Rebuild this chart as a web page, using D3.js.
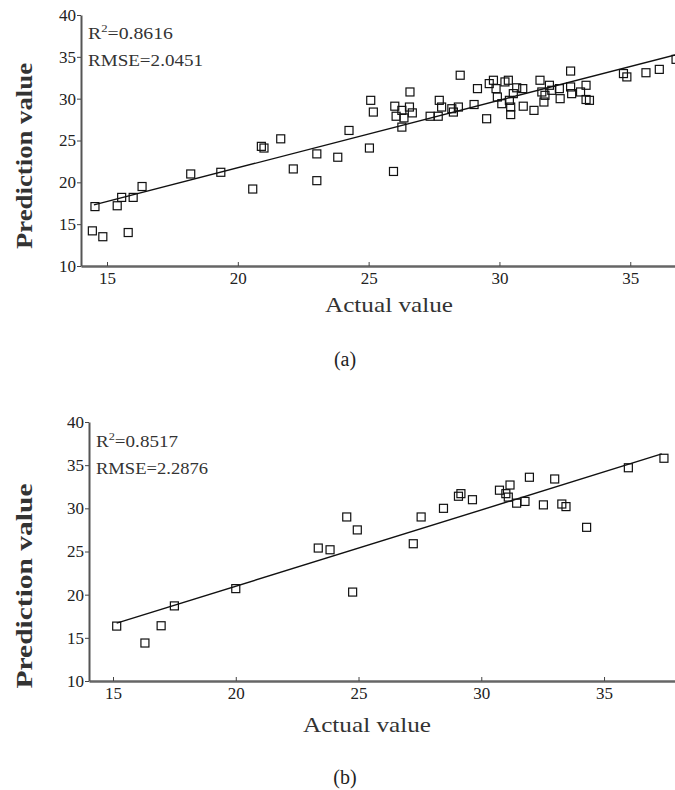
<!DOCTYPE html>
<html>
<head>
<meta charset="utf-8">
<script src="https://cdn.jsdelivr.net/npm/d3@7"></script>
<style>
  html, body { margin: 0; padding: 0; background: #fff; }
  svg { display: block; }
</style>
</head>
<body>
<svg id="chart" width="675" height="790"></svg>
<script>
// ---------- DATA ----------
// Panel (a): actual vs predicted
const actualA = [14.54, 14.44, 14.84, 15.39, 15.56, 16.0, 15.81, 16.34, 18.2, 19.35, 20.57, 20.9, 21.0,
  21.64, 22.12, 23.02, 23.02, 23.82, 24.25, 25.03, 25.08, 25.18, 25.95, 26.0, 26.05, 26.27, 26.27, 26.35,
  26.56, 26.58, 26.67, 27.35, 27.66, 27.7, 27.79, 28.18, 28.24, 28.43, 28.5, 29.03, 29.16, 29.51, 29.61,
  29.77, 29.87, 29.92, 30.09, 30.21, 30.34, 30.38, 30.43, 30.43, 30.53, 30.66, 30.89, 30.91, 31.32, 31.55,
  31.62, 31.74, 31.7, 31.91, 32.0, 32.32, 32.29, 32.72, 32.72, 32.76, 33.1, 33.31, 33.31, 33.44, 34.74,
  34.87, 35.6, 36.11, 36.75];
const predictedA = [17.1, 14.2, 13.5, 17.2, 18.2, 18.2, 14.0, 19.5, 21.0, 21.2, 19.2, 24.3, 24.1,
  25.2, 21.6, 23.4, 20.2, 23.0, 26.2, 24.1, 29.8, 28.4, 21.3, 29.1, 27.9, 28.6, 26.6, 27.7,
  29.0, 30.8, 28.3, 27.9, 27.9, 29.8, 29.0, 28.8, 28.4, 29.0, 32.8, 29.3, 31.2, 27.6, 31.8,
  32.2, 31.2, 30.2, 29.4, 32.0, 32.2, 29.8, 29.0, 28.1, 30.6, 31.3, 31.2, 29.1, 28.6, 32.2,
  30.8, 30.4, 29.6, 31.6, 31.0, 30.0, 31.2, 33.3, 31.4, 30.6, 30.8, 31.6, 29.9, 29.8, 33.0,
  32.6, 33.1, 33.5, 34.7];
const fitXA = [14.5, 36.8];
const fitYA = [17.3, 35.3];
const statsA = ["0.8616", "2.0451"];

// Panel (b)
const actualB = [15.15, 16.3, 16.96, 17.5, 20.0, 23.36, 23.84, 24.52, 24.95, 24.76, 27.23, 27.55, 28.46,
  29.07, 29.17, 29.64, 30.74, 31.0, 31.17, 31.1, 31.44, 31.78, 31.96, 32.53, 32.99, 33.28, 33.45, 34.29,
  35.99, 37.44];
const predictedB = [16.36, 14.4, 16.4, 18.7, 20.7, 25.4, 25.2, 29.0, 27.5, 20.3, 25.9, 29.0, 30.0,
  31.4, 31.7, 31.0, 32.1, 31.7, 32.7, 31.3, 30.6, 30.8, 33.6, 30.4, 33.4, 30.5, 30.2, 27.8,
  34.7, 35.8];
const fitXB = [15.15, 37.35];
const fitYB = [16.7, 36.3];
const statsB = ["0.8517", "2.2876"];

const xTicks = [15, 20, 25, 30, 35];
const yTicks = [10, 15, 20, 25, 30, 35, 40];
const xTitle = "Actual value";
const yTitle = "Prediction value";

// ---------- DRAW ----------
const svg = d3.select("#chart");
const FONT = "'Liberation Serif', 'Times New Roman', serif";

function panel(cfg) {
  const x = d3.scaleLinear().domain(cfg.xDomain).range([cfg.left, cfg.right]);
  const y = d3.scaleLinear().domain([10, 40]).range([cfg.bottom, cfg.top]);
  const g = svg.append("g");

  // x axis (ticks point inward)
  const xa = g.append("g")
    .attr("transform", `translate(0,${cfg.bottom})`)
    .call(d3.axisBottom(x).tickValues(xTicks).tickFormat(d3.format("d"))
      .tickSizeInner(-4).tickSizeOuter(0).tickPadding(6));
  xa.select(".domain").attr("stroke", "#666").attr("stroke-width", 2.5);
  xa.selectAll(".tick line").attr("stroke", "#444").attr("stroke-width", 1);
  xa.selectAll(".tick text").attr("font-family", FONT).attr("font-size", cfg.tickFont)
    .attr("fill", "#222");

  // y axis (ticks outward)
  const ya = g.append("g")
    .attr("transform", `translate(${cfg.left},0)`)
    .call(d3.axisLeft(y).tickValues(yTicks).tickFormat(d3.format("d"))
      .tickSizeInner(4).tickSizeOuter(0).tickPadding(1));
  ya.select(".domain").attr("stroke", "#555").attr("stroke-width", 2);
  ya.selectAll(".tick line").attr("stroke", "#444").attr("stroke-width", 1);
  ya.selectAll(".tick text").attr("font-family", FONT).attr("font-size", cfg.tickFont)
    .attr("fill", "#222");

  // fit line
  g.append("line")
    .attr("x1", x(cfg.fitX[0])).attr("y1", y(cfg.fitY[0]))
    .attr("x2", x(cfg.fitX[1])).attr("y2", y(cfg.fitY[1]))
    .attr("stroke", "#111").attr("stroke-width", 1.4);

  // points
  const s = 8;
  g.append("g").selectAll("rect")
    .data(cfg.xs.map((v, i) => [v, cfg.ys[i]]))
    .join("rect")
    .attr("x", d => x(d[0]) - s / 2)
    .attr("y", d => y(d[1]) - s / 2)
    .attr("width", s).attr("height", s)
    .attr("fill", "none").attr("stroke", "#111").attr("stroke-width", 1.2);

  // stats text
  const t1 = g.append("text")
    .attr("x", cfg.left + cfg.statDx).attr("y", cfg.statY1)
    .attr("font-family", FONT).attr("font-size", 17).attr("fill", "#333")
    .attr("textLength", cfg.r2Len).attr("lengthAdjust", "spacingAndGlyphs");
  t1.append("tspan").text("R");
  t1.append("tspan").attr("dy", -7).attr("font-size", 11).text("2");
  t1.append("tspan").attr("dy", 7).text("=" + cfg.stats[0]);
  g.append("text")
    .attr("x", cfg.left + cfg.statDx).attr("y", cfg.statY2)
    .attr("font-family", FONT).attr("font-size", 17).attr("fill", "#333")
    .attr("textLength", cfg.rmseLen).attr("lengthAdjust", "spacingAndGlyphs")
    .text("RMSE=" + cfg.stats[1]);

  // axis titles
  g.append("text")
    .attr("x", cfg.xTitleX).attr("y", cfg.xTitleY)
    .attr("text-anchor", "middle")
    .attr("font-family", FONT).attr("font-size", 22).attr("fill", "#333")
    .attr("textLength", 128).attr("lengthAdjust", "spacingAndGlyphs")
    .text(xTitle);
  g.append("text")
    .attr("transform", `translate(${cfg.yTitleX},${cfg.yTitleY}) rotate(-90)`)
    .attr("text-anchor", "middle")
    .attr("font-family", FONT).attr("font-size", 24).attr("font-weight", "bold").attr("fill", "#333")
    .attr("textLength", cfg.yTitleLen).attr("lengthAdjust", "spacingAndGlyphs")
    .text(yTitle);

  // caption
  g.append("text")
    .attr("x", 345).attr("y", cfg.capY)
    .attr("text-anchor", "middle")
    .attr("font-family", FONT).attr("font-size", 20).attr("fill", "#222")
    .text(cfg.caption);
}

panel({
  xs: actualA, ys: predictedA, fitX: fitXA, fitY: fitYA, stats: statsA,
  xDomain: [14.006, 36.71], left: 81, right: 675, top: 15, bottom: 266,
  tickFont: 17, statDx: 7, statY1: 39, statY2: 66, r2Len: 85, rmseLen: 115,
  xTitleX: 389, xTitleY: 312, yTitleX: 32, yTitleY: 156, yTitleLen: 186,
  capY: 366, caption: "(a)"
});

panel({
  xs: actualB, ys: predictedB, fitX: fitXB, fitY: fitYB, stats: statsB,
  xDomain: [14.022, 37.89], left: 89, right: 675, top: 422, bottom: 681,
  tickFont: 17, statDx: 7, statY1: 447, statY2: 474, r2Len: 82, rmseLen: 112,
  xTitleX: 367, xTitleY: 732, yTitleX: 32, yTitleY: 586, yTitleLen: 205,
  capY: 784, caption: "(b)"
});
</script>
</body>
</html>
